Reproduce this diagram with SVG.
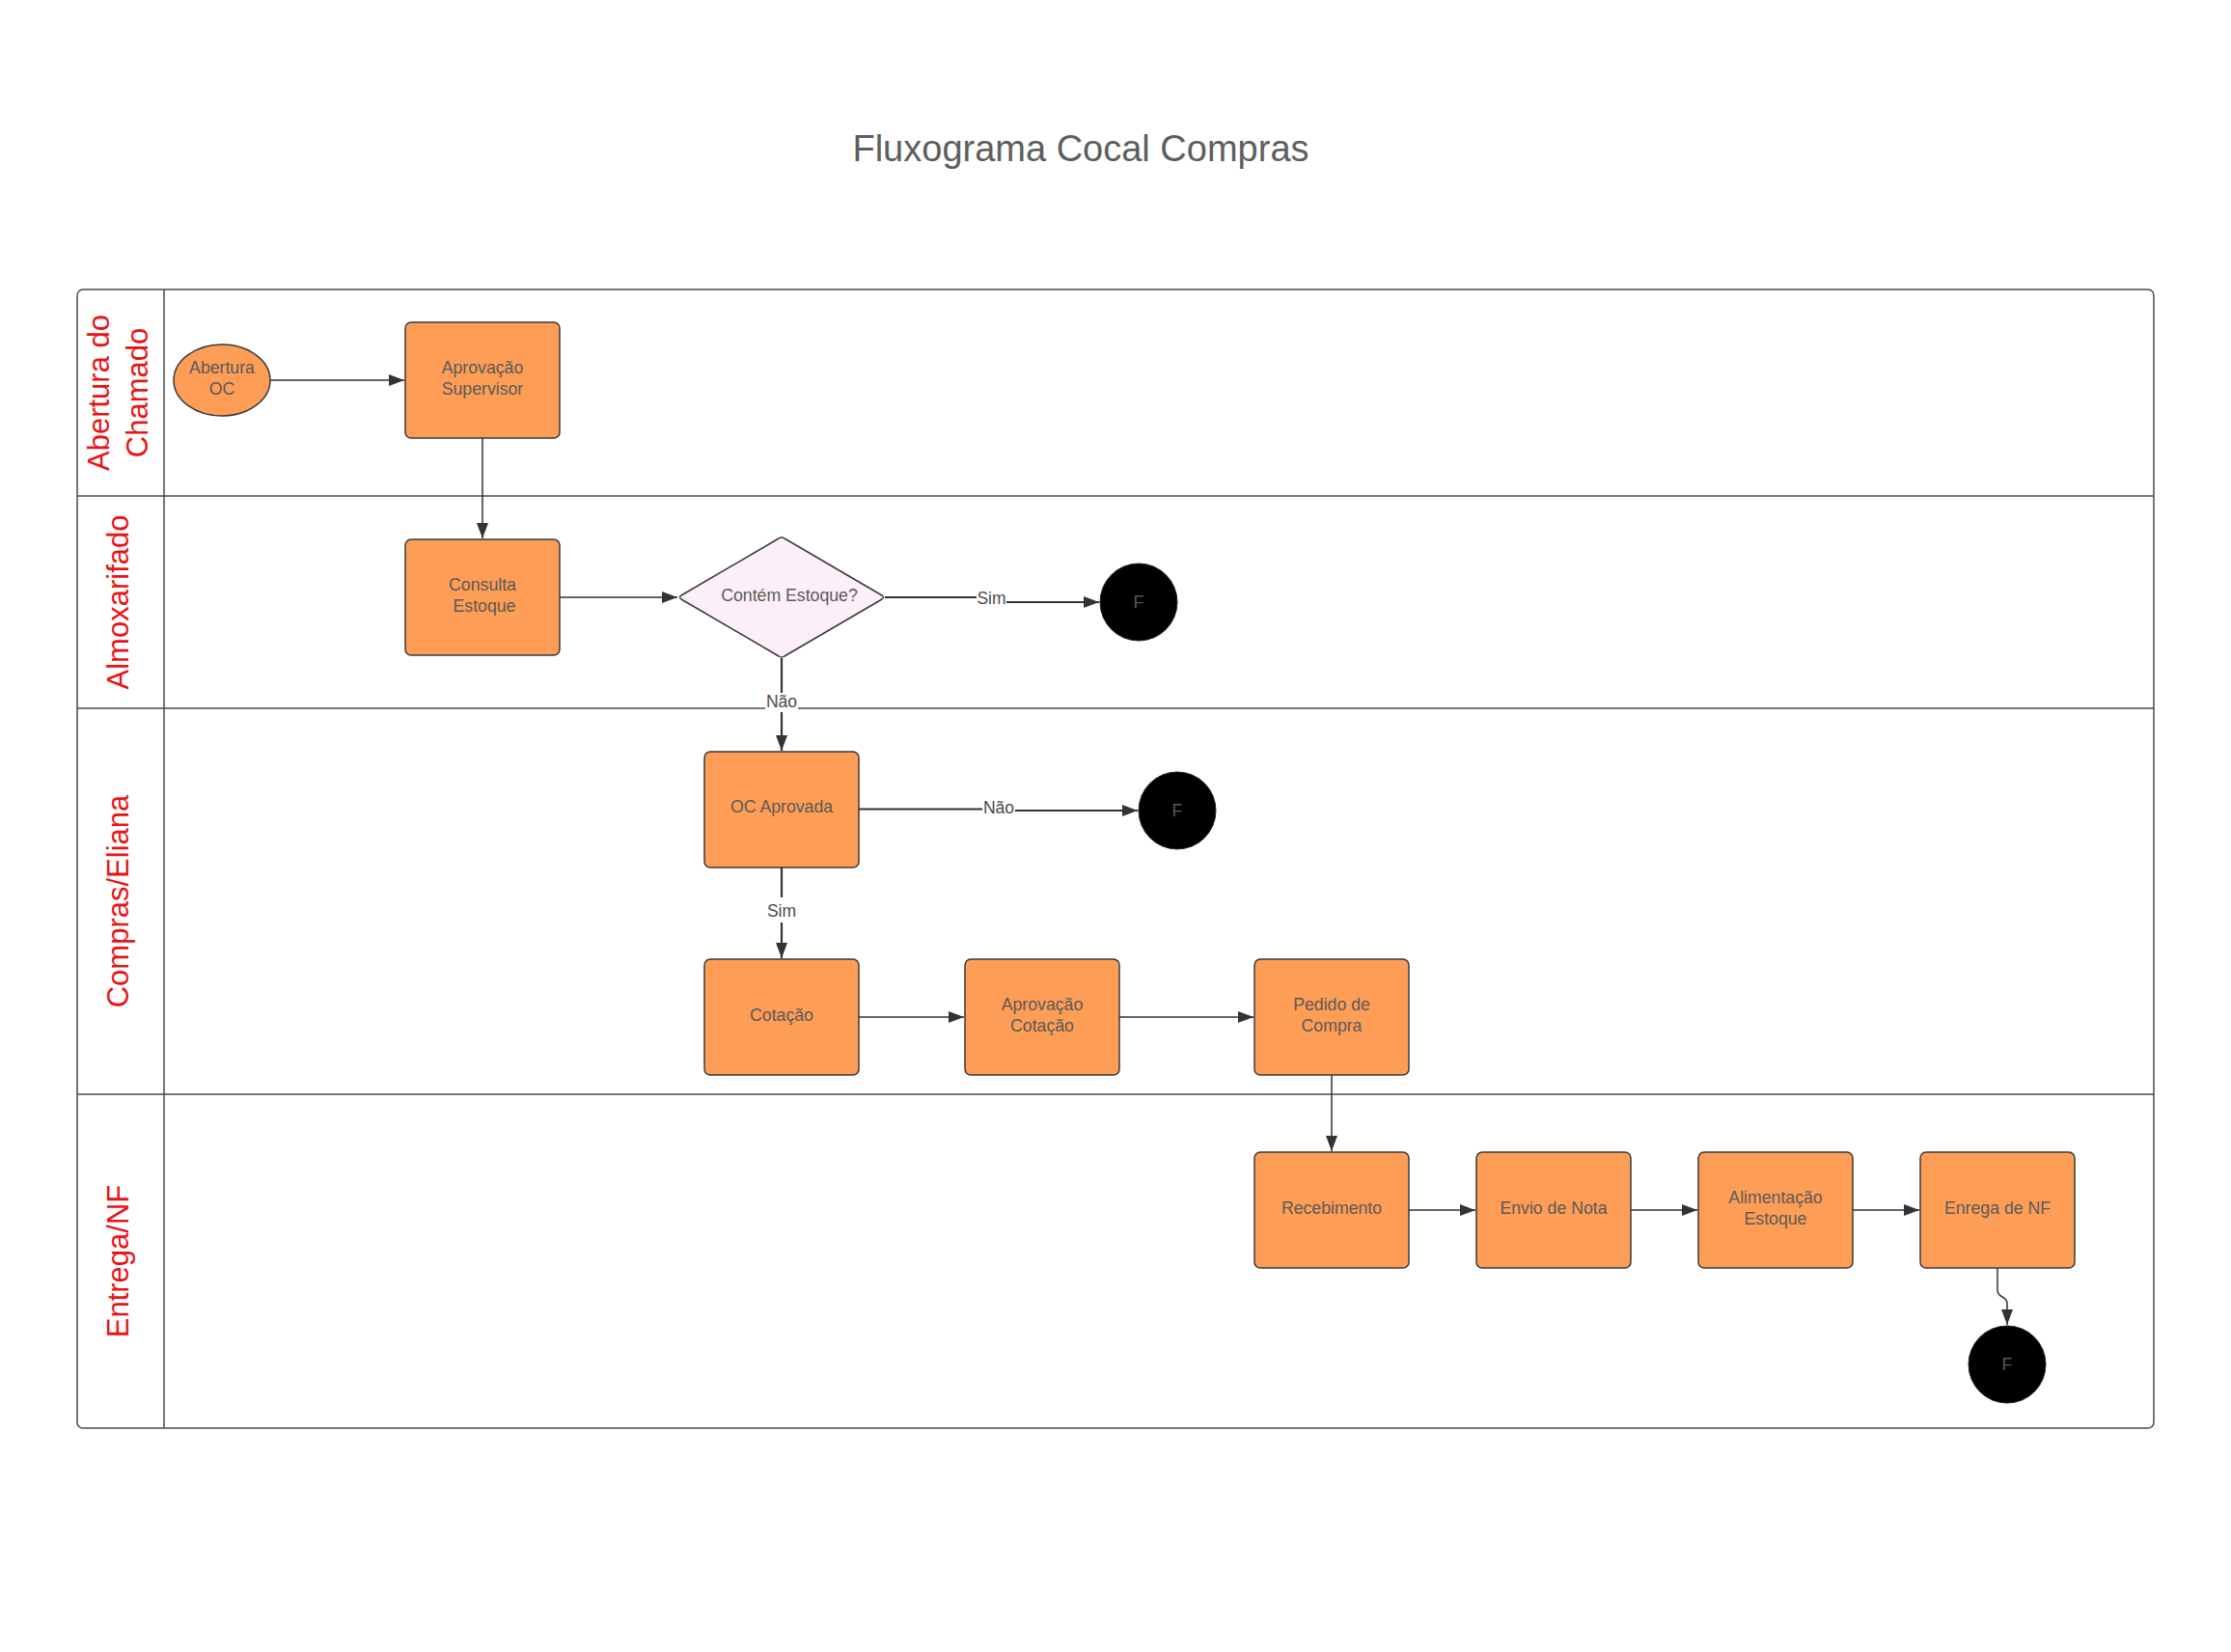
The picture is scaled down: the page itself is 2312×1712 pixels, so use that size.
<svg xmlns="http://www.w3.org/2000/svg" width="2312" height="1712" viewBox="0 0 2312 1712">
<defs>
<style>
.lane{fill:none;stroke:#4a4a4a;stroke-width:1.5}
.lanelbl{font-family:"Liberation Sans",Arial,sans-serif;font-size:31px;fill:#e81416;text-anchor:middle}
.box{fill:#fe9d55;stroke:#3a3a3a;stroke-width:1.5}
.dec{fill:#fdeff9;stroke:#3a3a3a;stroke-width:1.5}
.end{fill:#000;stroke:#222;stroke-width:1}
.t{font-family:"Liberation Sans",Arial,sans-serif;font-size:17.7px;fill:#5a5a5a;text-anchor:middle}
.lbl{font-family:"Liberation Sans",Arial,sans-serif;font-size:17.5px;fill:#4a4a4a;text-anchor:middle}
.c{fill:none;stroke:#333;stroke-width:1.5}
.ct{fill:none;stroke:#333;stroke-width:2.2}
.title{font-family:"Liberation Sans",Arial,sans-serif;font-size:38px;fill:#5e5e5e;text-anchor:middle}
</style>
<marker id="ah" markerWidth="16" markerHeight="12" refX="16" refY="6" orient="auto" markerUnits="userSpaceOnUse">
<path d="M0,0 L16,6 L0,12 z" fill="#333"/>
</marker>
</defs>
<rect width="2312" height="1712" fill="#fff"/>
<text class="title" x="1120" y="167">Fluxograma Cocal Compras</text>

<g id="swimlanes">
<rect class="lane" x="80" y="300" width="2152" height="1180" rx="6"/>
<line class="lane" x1="170" y1="300" x2="170" y2="1480"/>
<line class="lane" x1="80" y1="514" x2="2232" y2="514"/>
<line class="lane" x1="80" y1="734" x2="2232" y2="734"/>
<line class="lane" x1="80" y1="1134" x2="2232" y2="1134"/>
<text class="lanelbl" transform="translate(113,407) rotate(-90)"><tspan x="0" y="0">Abertura do</tspan><tspan x="0" y="40">Chamado</tspan></text>
<text class="lanelbl" transform="translate(133,624) rotate(-90)">Almoxarifado</text>
<text class="lanelbl" transform="translate(133,934) rotate(-90)">Compras/Eliana</text>
<text class="lanelbl" transform="translate(133,1307) rotate(-90)">Entrega/NF</text>
</g>

<g id="connectors">
<path class="c" d="M280,394 H419" marker-end="url(#ah)"/>
<path class="c" d="M500,454 V558" marker-end="url(#ah)"/>
<path class="c" d="M580,619 H702" marker-end="url(#ah)"/>
<path class="ct" d="M917,619 H1027 V624 H1139" marker-end="url(#ah)"/>
<path class="ct" d="M810,682 V778" marker-end="url(#ah)"/>
<path class="ct" d="M890,838.5 H1035 V840 H1179" marker-end="url(#ah)"/>
<path class="ct" d="M810,899 V993" marker-end="url(#ah)"/>
<path class="c" d="M890,1054 H999" marker-end="url(#ah)"/>
<path class="c" d="M1160,1054 H1299" marker-end="url(#ah)"/>
<path class="c" d="M1380,1114 V1193" marker-end="url(#ah)"/>
<path class="c" d="M1460,1254 H1529" marker-end="url(#ah)"/>
<path class="c" d="M1690,1254 H1759" marker-end="url(#ah)"/>
<path class="c" d="M1920,1254 H1989" marker-end="url(#ah)"/>
<path class="c" d="M2070,1314 V1337 C2070,1346 2080,1342 2080,1351 V1373" marker-end="url(#ah)"/>
<rect x="1012" y="610" width="31" height="18" fill="#fff"/>
<text class="lbl" x="1027.5" y="626">Sim</text>
<rect x="793" y="718" width="34" height="20" fill="#fff"/>
<text class="lbl" x="810" y="733">Não</text>
<rect x="1018" y="828" width="34" height="20" fill="#fff"/>
<text class="lbl" x="1035" y="843">Não</text>
<rect x="794" y="930" width="32" height="26" fill="#fff"/>
<text class="lbl" x="810" y="950">Sim</text>
</g>

<g id="n-abertura"><ellipse class="box" cx="230" cy="394" rx="50" ry="37"/><text class="t" x="230" y="387">Abertura</text><text class="t" x="230" y="409">OC</text></g>
<g id="n-aprov-sup"><rect class="box" x="420" y="334" width="160" height="120" rx="6"/><text class="t" x="500" y="387">Aprovação</text><text class="t" x="500" y="409">Supervisor</text></g>
<g id="n-consulta"><rect class="box" x="420" y="559" width="160" height="120" rx="6"/><text class="t" x="500" y="612">Consulta</text><text class="t" x="502" y="634">Estoque</text></g>
<g id="n-contem"><path class="dec" d="M706,617 L807,558 Q810,556 813,558 L914,617 Q917,619 914,621 L813,680 Q810,682 807,680 L706,621 Q703,619 706,617 z"/><text class="t" x="818" y="623">Contém Estoque?</text></g>
<g id="n-f1"><circle class="end" cx="1180" cy="624" r="40"/><text class="t" x="1180" y="630">F</text></g>
<g id="n-oc"><rect class="box" x="730" y="779" width="160" height="120" rx="6"/><text class="t" x="810" y="842">OC Aprovada</text></g>
<g id="n-f2"><circle class="end" cx="1220" cy="840" r="40"/><text class="t" x="1220" y="846">F</text></g>
<g id="n-cotacao"><rect class="box" x="730" y="994" width="160" height="120" rx="6"/><text class="t" x="810" y="1058">Cotação</text></g>
<g id="n-aprov-cot"><rect class="box" x="1000" y="994" width="160" height="120" rx="6"/><text class="t" x="1080" y="1047">Aprovação</text><text class="t" x="1080" y="1069">Cotação</text></g>
<g id="n-pedido"><rect class="box" x="1300" y="994" width="160" height="120" rx="6"/><text class="t" x="1380" y="1047">Pedido de</text><text class="t" x="1380" y="1069">Compra</text></g>
<g id="n-receb"><rect class="box" x="1300" y="1194" width="160" height="120" rx="6"/><text class="t" x="1380" y="1258">Recebimento</text></g>
<g id="n-envio"><rect class="box" x="1530" y="1194" width="160" height="120" rx="6"/><text class="t" x="1610" y="1258">Envio de Nota</text></g>
<g id="n-alim"><rect class="box" x="1760" y="1194" width="160" height="120" rx="6"/><text class="t" x="1840" y="1247">Alimentação</text><text class="t" x="1840" y="1269">Estoque</text></g>
<g id="n-enrega"><rect class="box" x="1990" y="1194" width="160" height="120" rx="6"/><text class="t" x="2070" y="1258">Enrega de NF</text></g>
<g id="n-f3"><circle class="end" cx="2080" cy="1414" r="40"/><text class="t" x="2080" y="1420">F</text></g>
</svg>
